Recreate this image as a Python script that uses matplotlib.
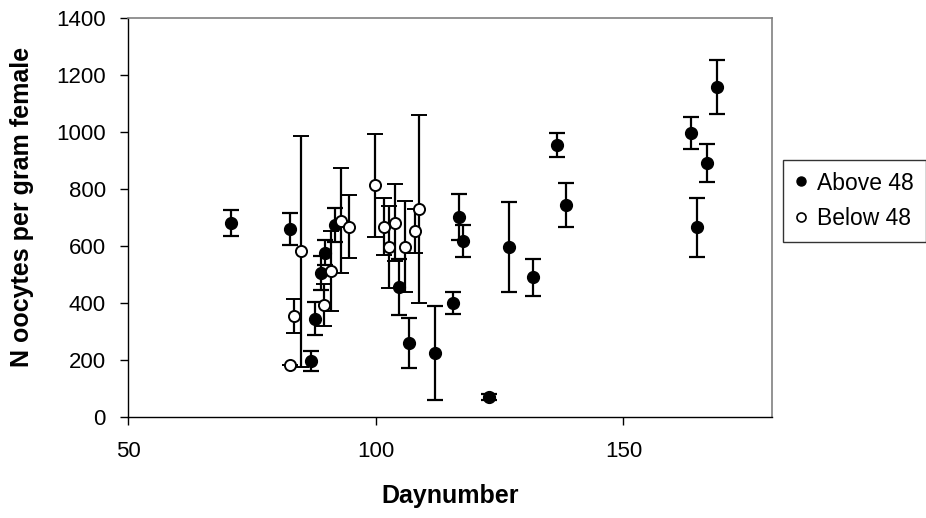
import matplotlib
matplotlib.use("Agg")
import matplotlib.pyplot as plt
from matplotlib.lines import Line2D

plt.rcParams['font.family'] = ['Liberation Sans', 'DejaVu Sans']

# above 48 (filled)
above_day = [70.7, 82.8, 86.9, 87.7, 88.9, 89.8, 91.8, 104.7, 106.7, 112.0, 115.7,
             116.8, 117.6, 122.9, 126.9, 131.7, 136.5, 138.5, 163.6, 164.8, 166.8, 168.8]
above_n = [680, 658, 195, 344, 504, 577, 674, 456, 259, 225, 399,
           701, 617, 70, 596, 490, 953, 744, 996, 665, 890, 1157]
above_err = [45, 56, 35, 58, 60, 45, 60, 98, 88, 165, 38,
             80, 55, 9, 158, 66, 42, 77, 56, 102, 67, 95]

# below 48 (open)
below_day = [82.8, 83.5, 84.9, 89.6, 91.0, 93.0, 94.7, 99.8, 101.7, 102.7, 103.8,
             105.9, 107.9, 108.7]
below_n = [184, 355, 582, 393, 512, 689, 668, 813, 668, 597, 682, 597, 654, 731]
below_err = [0, 60, 405, 75, 140, 185, 110, 180, 100, 145, 135, 160, 77, 330]

x_ticks = [50, 100, 150]
y_ticks = [0, 200, 400, 600, 800, 1000, 1200, 1400]

fig = plt.figure(figsize=(9.26, 5.18), dpi=100)
ax = fig.add_axes([0.1382, 0.195, 0.6955, 0.7703])

ax.errorbar(above_day, above_n, yerr=above_err, fmt='o', color='black',
            markerfacecolor='black', markeredgecolor='black', markersize=8.5,
            elinewidth=1.6, capsize=5.5, capthick=1.6, zorder=3)
ax.errorbar(below_day, below_n, yerr=below_err, fmt='o', color='black',
            markerfacecolor='white', markeredgecolor='black', markersize=8,
            markeredgewidth=1.4, elinewidth=1.6, capsize=5.5, capthick=1.6, zorder=4)

ax.set_xlim(50, 180)
ax.set_ylim(0, 1400)
ax.set_xticks(x_ticks)
ax.set_yticks(y_ticks)
ax.tick_params(direction='out', length=6, width=1, labelsize=16)
ax.tick_params(axis='x', pad=11)
ax.tick_params(axis='y', pad=10)

for side in ['top', 'right']:
    ax.spines[side].set_color('#808080')
    ax.spines[side].set_linewidth(1.2)
for side in ['left', 'bottom']:
    ax.spines[side].set_color('black')
    ax.spines[side].set_linewidth(1.0)

fig.text(0.486, 0.043, 'Daynumber', fontsize=18, fontweight='bold',
         ha='center', va='center')
fig.text(0.0238, 0.600, 'N oocytes per gram female', fontsize=18,
         fontweight='bold', rotation=90, ha='center', va='center')

handles = [
    Line2D([], [], marker='o', linestyle='none', color='black',
           markerfacecolor='black', markersize=6.5),
    Line2D([], [], marker='o', linestyle='none', color='black',
           markerfacecolor='white', markersize=6.5, markeredgewidth=1.2),
]
leg = fig.legend(handles, ['Above 48', 'Below 48'], loc='upper left',
                 bbox_to_anchor=(0.8456, 0.691), fontsize=16.5, frameon=True,
                 fancybox=False, handlelength=0.6, handletextpad=0.4,
                 borderpad=0.5, labelspacing=0.55, borderaxespad=0)
leg.get_frame().set_edgecolor('black')
leg.get_frame().set_linewidth(1.0)

fig.savefig('out.png', dpi=100)
